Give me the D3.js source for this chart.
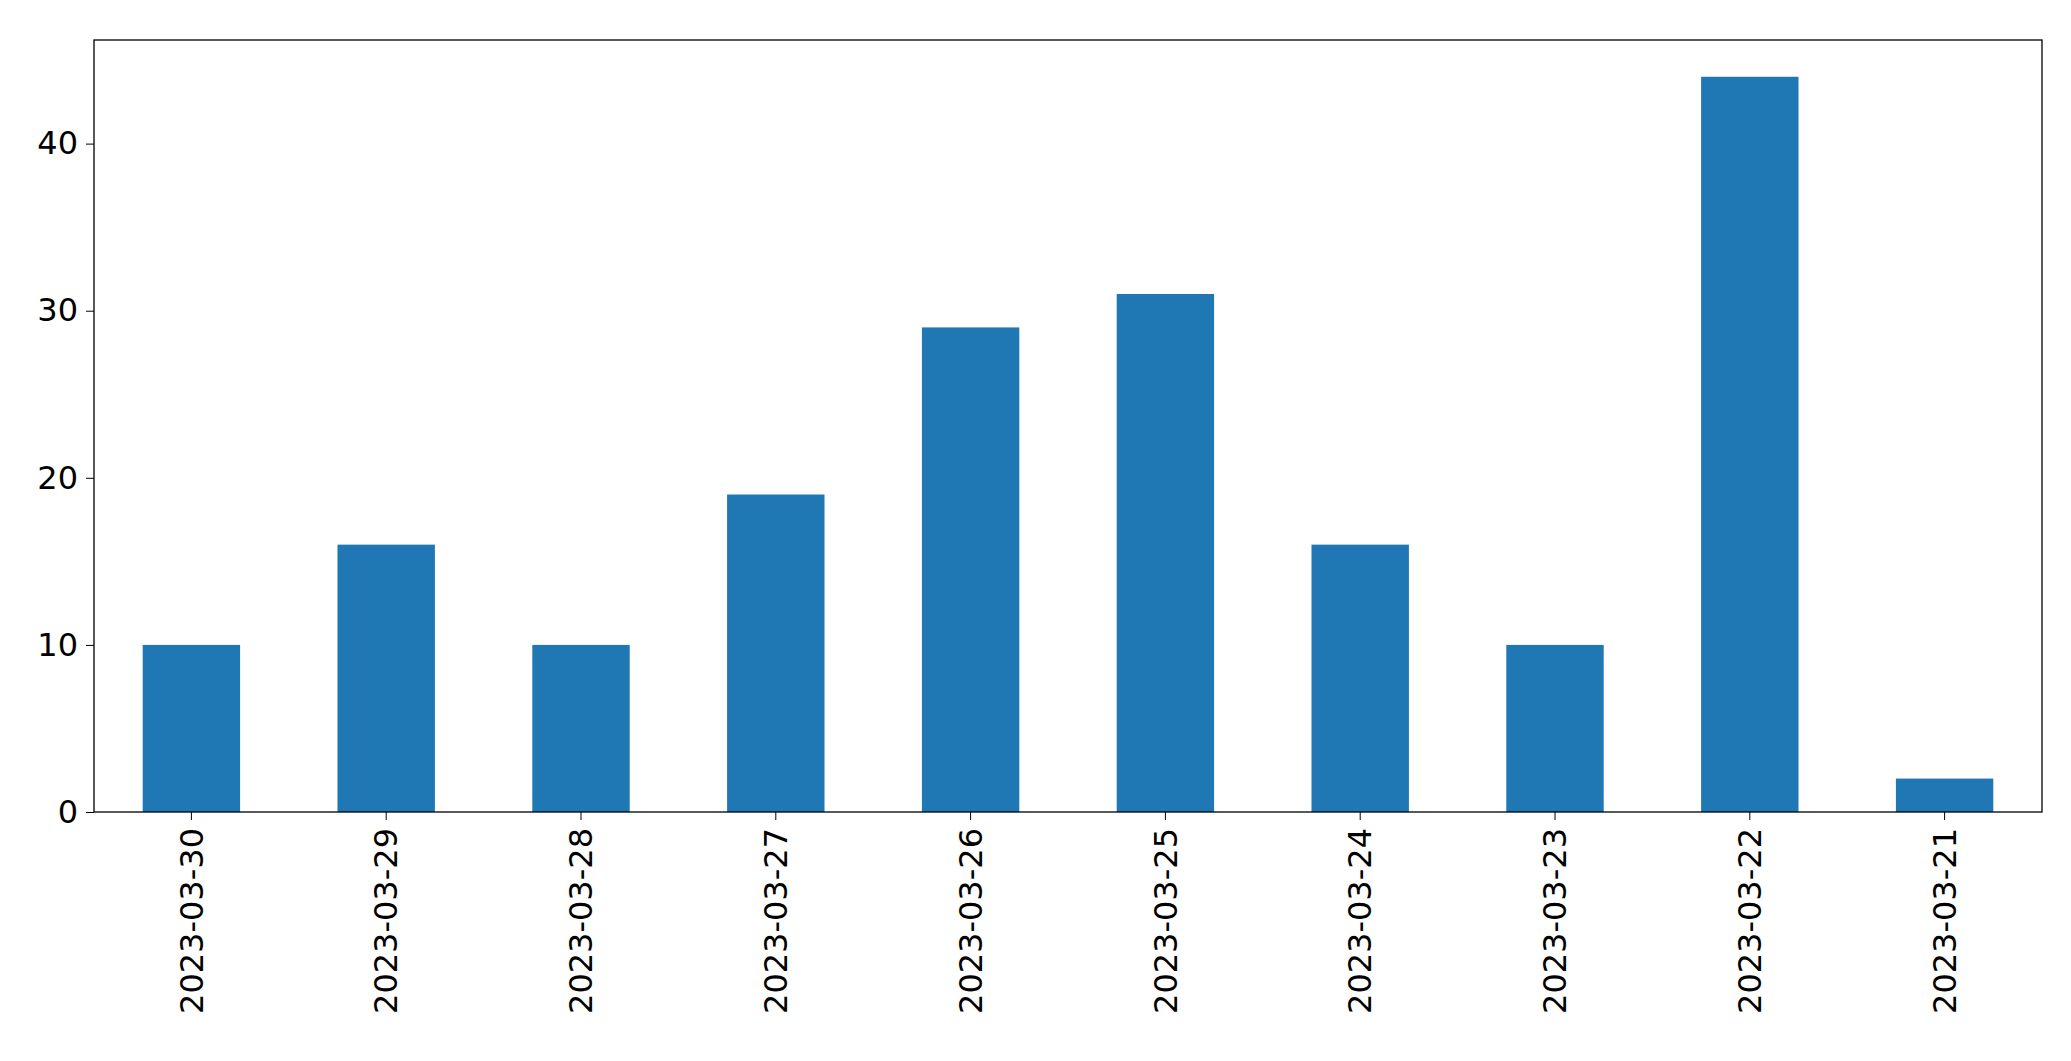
<!DOCTYPE html>
<html><head><meta charset="utf-8">
<script src="https://cdn.jsdelivr.net/npm/d3@7"></script>
<style>body{margin:0;background:#fff}</style></head>
<body><svg id="c" width="2071" height="1061"></svg>
<script>
const categories = ["2023-03-30","2023-03-29","2023-03-28","2023-03-27","2023-03-26","2023-03-25","2023-03-24","2023-03-23","2023-03-22","2023-03-21"];
const values = [10,16,10,19,29,31,16,10,44,2];
const yTicks = [0,10,20,30,40];

const m = {l:94, r:2042, t:40, b:812};
const svg = d3.select("#c");
const x = d3.scaleBand().domain(categories).range([m.l, m.r]).paddingInner(0.5).paddingOuter(0.25);
const y = d3.scaleLinear().domain([0, d3.max(values)*1.05]).range([m.b, m.t]);

svg.selectAll("rect.bar").data(values).join("rect").attr("class","bar")
  .attr("x",(d,i)=>x(categories[i])).attr("width",x.bandwidth())
  .attr("y",d=>y(d)).attr("height",d=>y(0)-y(d)).attr("fill","#1f77b4");

const font = "DejaVu Sans";
const ya = svg.append("g").attr("transform",`translate(${m.l},0)`)
  .call(d3.axisLeft(y).tickValues(yTicks).tickSize(8).tickPadding(8));
ya.select(".domain").remove();
ya.selectAll("text").attr("font-family",font).attr("font-size",32).attr("fill","#000");

const xa = svg.append("g").attr("transform",`translate(0,${m.b})`)
  .call(d3.axisBottom(x).tickSize(8).tickPadding(8));
xa.select(".domain").remove();
xa.selectAll("text").attr("font-family",font).attr("font-size",32).attr("fill","#000")
  .attr("transform","rotate(-90)").attr("text-anchor","end").attr("dy","0.35em")
  .attr("x",-16).attr("y",0);

svg.append("rect").attr("x",m.l).attr("y",m.t).attr("width",m.r-m.l).attr("height",m.b-m.t)
  .attr("fill","none").attr("stroke","#000").attr("stroke-width",1.3);
</script></body></html>
